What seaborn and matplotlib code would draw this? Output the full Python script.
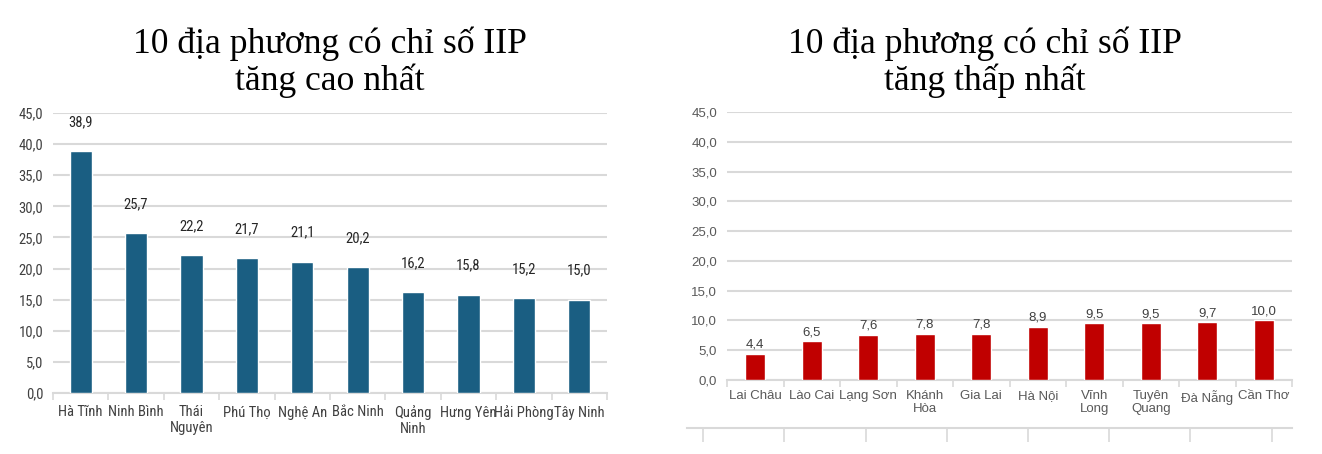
import matplotlib
matplotlib.use("Agg")
import matplotlib.pyplot as plt
from matplotlib import font_manager
from matplotlib.font_manager import FontProperties
from matplotlib.ticker import FuncFormatter, FixedLocator
import numpy as np
import pandas as pd
import seaborn as sns

# dữ liệu
top_names = ["Hà Tĩnh", "Ninh Bình", "Thái\nNguyên", "Phú Thọ", "Nghệ An",
             "Bắc Ninh", "Quảng\nNinh", "Hưng Yên", "Hải Phòng", "Tây Ninh"]
top_values = [38.9, 25.7, 22.2, 21.7, 21.1, 20.2, 16.2, 15.8, 15.2, 15.0]

low_names = ["Lai Châu", "Lào Cai", "Lạng Sơn", "Khánh\nHòa", "Gia Lai",
             "Hà Nội", "Vĩnh\nLong", "Tuyên\nQuang", "Đà Nẵng", "Cần Thơ"]
low_values = [4.4, 6.5, 7.6, 7.8, 7.8, 8.9, 9.5, 9.5, 9.7, 10.0]

y_ticks = [0, 5, 10, 15, 20, 25, 30, 35, 40, 45]

title_top = "10 địa phương có chỉ số IIP\ntăng cao nhất"
title_low = "10 địa phương có chỉ số IIP\ntăng thấp nhất"

sns.set_theme(style="white")
plt.rcParams["font.family"] = ["Liberation Sans", "DejaVu Sans"]


# tìm một font hẹp (kiểu Arial Narrow) nếu có
def find_narrow():
    order = ["Liberation Sans Narrow", "Roboto Condensed", "Open Sans Condensed",
             "Noto Sans", "DejaVu Sans", "Open Sans", "Roboto"]
    found = {}
    for f in font_manager.fontManager.ttflist:
        st = f.stretch
        narrowish = st in ("condensed", "semi-condensed", "extra-condensed") or \
            (isinstance(st, int) and st < 500) or "Narrow" in f.name or "Condensed" in f.name
        if not narrowish or f.style != "normal":
            continue
        if f.weight not in (400, "normal", "regular", "book"):
            continue
        found.setdefault(f.name, f.fname)
    for name in order:
        if name in found:
            return found[name]
    return None


narrow_path = find_narrow()

W, H = 1322, 454
fig = plt.figure(figsize=(W / 100, H / 100), dpi=100)


def px_axes(x0, x1, ytop, ybot):
    return fig.add_axes([x0 / W, (H - ybot) / H, (x1 - x0) / W, (ybot - ytop) / H])


def comma(v, _=None):
    return f"{v:.1f}".replace(".", ",")


def make_fp(path, size):
    if path:
        return FontProperties(fname=path, size=size)
    return FontProperties(family=["Liberation Sans", "DejaVu Sans"], size=size)


def draw(ax, names, values, color, width, fp_tick, fp_lab, lab_offset, xpad, tick_color, lab_color):
    df = pd.DataFrame({"name": names, "value": values})
    sns.barplot(data=df, x="name", y="value", color=color, width=width,
                saturation=1, ax=ax, zorder=3)
    ax.set_ylim(0, 45)
    ax.set_xlim(-0.5, len(names) - 0.5)
    ax.yaxis.set_major_locator(FixedLocator(y_ticks))
    ax.yaxis.set_major_formatter(FuncFormatter(comma))
    ax.grid(axis="y", color="#D9D9D9", linewidth=1.5, zorder=0)
    ax.set_xlabel("")
    ax.set_ylabel("")
    for s in ["top", "right", "left"]:
        ax.spines[s].set_visible(False)
    ax.spines["bottom"].set_color("#D9D9D9")
    ax.spines["bottom"].set_linewidth(1.5)
    ax.tick_params(axis="y", length=0, pad=7, labelcolor=tick_color)
    ax.tick_params(axis="x", which="major", length=0, pad=xpad, labelcolor=tick_color)
    ax.set_xticks(np.arange(len(names) + 1) - 0.5, minor=True)
    ax.tick_params(axis="x", which="minor", bottom=True, length=5, width=1.2,
                   color="#D9D9D9", direction="out")
    for lbl in ax.get_xticklabels() + ax.get_yticklabels():
        lbl.set_fontproperties(fp_tick)
        lbl.set_linespacing(1.1)
    for i, v in enumerate(values):
        ax.annotate(comma(v), (i, v), xytext=(0, lab_offset), textcoords="offset pixels",
                    ha="center", va="bottom", color=lab_color, fontproperties=fp_lab)


if narrow_path:
    fp_tick_l, fp_lab_l = make_fp(narrow_path, 10.5), make_fp(narrow_path, 10.5)
else:
    fp_tick_l, fp_lab_l = make_fp(None, 8.3), make_fp(None, 8.3)

ax1 = px_axes(53, 607, 113, 393)
draw(ax1, top_names, top_values, "#1A5E82", 0.4, fp_tick_l, fp_lab_l, 22, 9,
     "#404040", "#262626")

ax2 = px_axes(727, 1292, 112, 380)
draw(ax2, low_names, low_values, "#C00000", 0.36,
     make_fp(None, 9.5), make_fp(None, 9.5), 3, 7, "#595959", "#404040")

# đường trục thừa phía dưới biểu đồ bên phải
ax3 = px_axes(687, 1292, 418, 428)
ax3.set_xlim(0, 7.45)
ax3.set_ylim(0, 1)
for s in ["top", "right", "left"]:
    ax3.spines[s].set_visible(False)
ax3.spines["bottom"].set_color("#D9D9D9")
ax3.spines["bottom"].set_linewidth(1.5)
ax3.set_yticks([])
ax3.set_xticks(np.arange(8) + 0.2)
ax3.set_xticklabels([])
ax3.tick_params(axis="x", bottom=True, length=10, width=1.2, color="#D9D9D9", direction="out")
ax3.patch.set_alpha(0)

serif = ["Liberation Serif", "DejaVu Serif"]
fig.text(330 / W, 1 - 62 / H, title_top, ha="center", va="center", fontsize=25.7,
         family=serif, linespacing=1.08, color="black")
fig.text(985 / W, 1 - 62 / H, title_low, ha="center", va="center", fontsize=25.7,
         family=serif, linespacing=1.08, color="black")

fig.savefig("out.png", dpi=100)
